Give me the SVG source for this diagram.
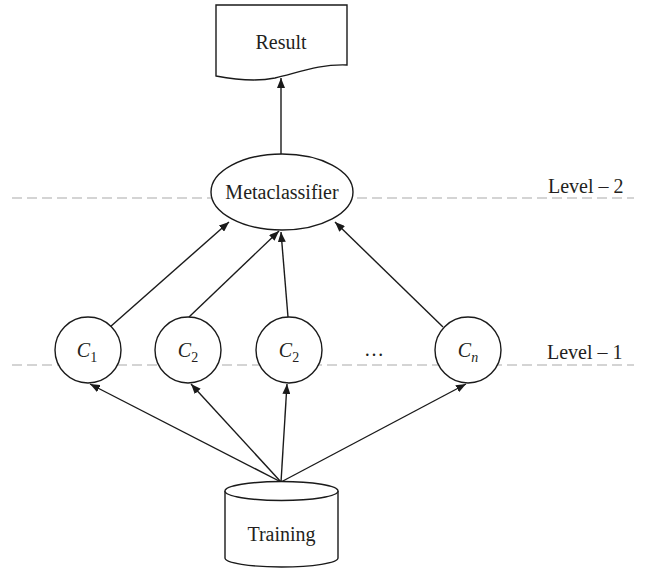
<svg xmlns="http://www.w3.org/2000/svg" width="646" height="569" viewBox="0 0 646 569">
<style>
.s{fill:#fff;stroke:#1a1a1a;stroke-width:1.4}
.t{font-family:"Liberation Serif",serif;font-size:20px;fill:#231f20}
.i{font-style:italic}
.c{stroke:#1a1a1a;stroke-width:1.4;fill:none;marker-end:url(#a)}
.d{stroke:#aaa;stroke-width:1.2;stroke-dasharray:10 5}
</style>
<defs>
<marker id="a" viewBox="0 0 10 8" refX="10" refY="4" markerWidth="10" markerHeight="8" markerUnits="userSpaceOnUse" orient="auto">
<path d="M0,0 L10,4 L0,8 Z" fill="#1a1a1a"/>
</marker>
</defs>
<g id="guides">
<line class="d" x1="12" y1="198" x2="634" y2="198"/>
<line class="d" x1="12" y1="365" x2="634" y2="365"/>
<text class="t" x="548" y="193">Level – 2</text>
<text class="t" x="547" y="359">Level – 1</text>
</g>
<g id="connectors">
<line class="c" x1="281" y1="154" x2="281" y2="78"/>
<line class="c" x1="110" y1="327" x2="229" y2="222"/>
<line class="c" x1="189" y1="317" x2="279" y2="231"/>
<line class="c" x1="288" y1="317" x2="281" y2="232"/>
<line class="c" x1="443" y1="327" x2="335" y2="222"/>
<line class="c" x1="281" y1="482" x2="90" y2="384"/>
<line class="c" x1="281" y1="482" x2="191" y2="384"/>
<line class="c" x1="281" y1="482" x2="287" y2="384"/>
<line class="c" x1="281" y1="482" x2="466" y2="384"/>
</g>
<g id="result">
<path class="s" d="M216,5 L347,5 L347,65 C320,64 300,72 275,78 C255,82 232,79 216,76 Z"/>
<text class="t" x="281" y="49" text-anchor="middle">Result</text>
</g>
<g id="metaclassifier">
<ellipse class="s" cx="282" cy="192" rx="71" ry="38"/>
<text class="t" x="282" y="199" text-anchor="middle">Metaclassifier</text>
</g>
<g id="c1">
<circle class="s" cx="88" cy="350" r="33"/>
<text class="t" x="87" y="357" text-anchor="middle"><tspan class="i">C</tspan><tspan font-size="14" dy="5">1</tspan></text>
</g>
<g id="c2a">
<circle class="s" cx="188" cy="350" r="33"/>
<text class="t" x="188" y="357" text-anchor="middle"><tspan class="i">C</tspan><tspan font-size="14" dy="5">2</tspan></text>
</g>
<g id="c2b">
<circle class="s" cx="289" cy="350" r="33"/>
<text class="t" x="289" y="357" text-anchor="middle"><tspan class="i">C</tspan><tspan font-size="14" dy="5">2</tspan></text>
</g>
<g id="dots">
<text class="t" x="374" y="356" text-anchor="middle">…</text>
</g>
<g id="cn">
<circle class="s" cx="468" cy="350" r="33"/>
<text class="t" x="468" y="357" text-anchor="middle"><tspan class="i">C</tspan><tspan class="i" font-size="14" dy="5">n</tspan></text>
</g>
<g id="training">
<path class="s" d="M225,491 L225,558 A56.5,9 0 0 0 338,558 L338,491"/>
<ellipse class="s" cx="281.5" cy="491" rx="56.5" ry="9.5"/>
<text class="t" x="281.5" y="541" text-anchor="middle">Training</text>
</g>
</svg>
